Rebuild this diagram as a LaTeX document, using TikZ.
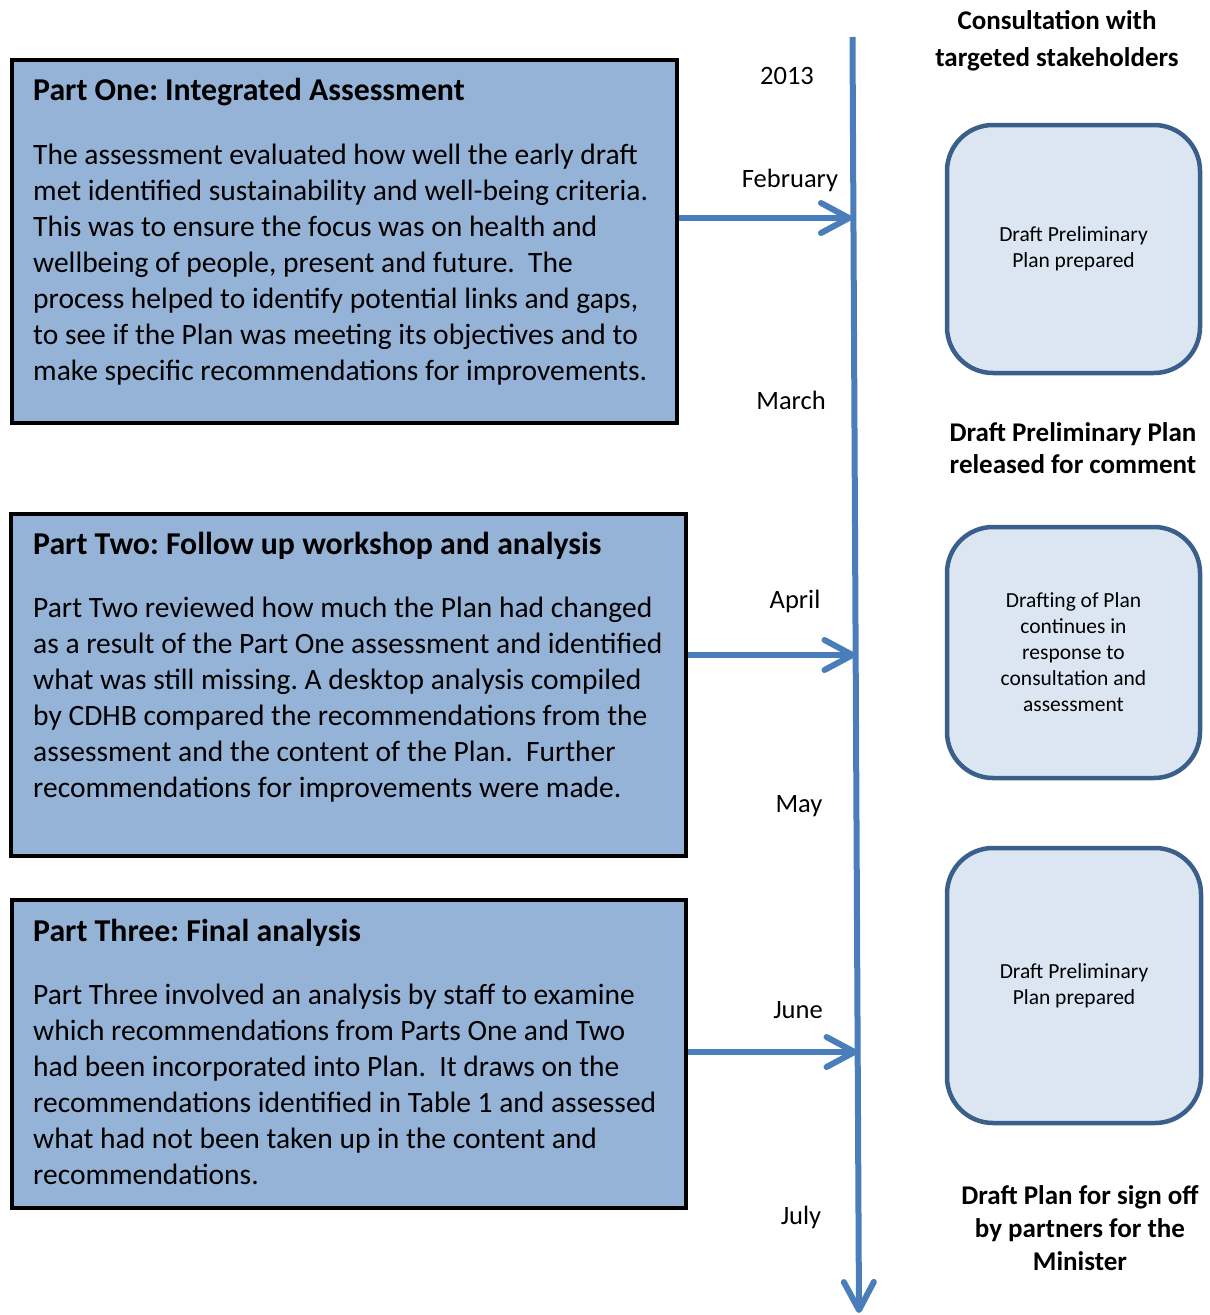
\documentclass[tikz,border=0pt]{standalone}
\usepackage{fontspec}
\setmainfont{Carlito}
\usetikzlibrary{arrows.meta}
\definecolor{partfill}{HTML}{95B3D7}
\definecolor{linecol}{HTML}{4A7EBB}
\definecolor{rbfill}{HTML}{DCE6F2}
\definecolor{rbdraw}{HTML}{3A5F8B}
\frenchspacing
\begin{document}
\begin{tikzpicture}[x=1pt,y=-1pt,
  partbox/.style={draw=black, line width=4pt, fill=partfill, inner sep=0pt},
  roundbox/.style={draw=rbdraw, line width=4.5pt, fill=rbfill, rounded corners=46pt, inner sep=0pt},
  boxtext/.style={font=\fontsize{21.5}{26}\selectfont, align=center, inner sep=0pt},
  heading/.style={font=\fontsize{31.8}{36}\selectfont\bfseries, anchor=base west, inner sep=0pt},
  body/.style={font=\fontsize{29.5}{36}\selectfont, anchor=base west, inner sep=0pt, align=left},
  month/.style={font=\fontsize{26.5}{30}\selectfont, inner sep=0pt},
  milestone/.style={font=\fontsize{27}{32}\selectfont\bfseries, align=center, inner sep=0pt},
  conn/.style={draw=linecol, line width=6pt, -{Straight Barb[length=28pt, width=30pt, round]}}
]
\useasboundingbox (0,0) rectangle (1210,1315);

% left boxes
\node[partbox, minimum width=665pt, minimum height=363pt] (p1) at (344.5,241.5) {};
\node[partbox, minimum width=675pt, minimum height=342pt] (p2) at (348.5,685) {};
\node[partbox, minimum width=674pt, minimum height=308pt] (p3) at (349,1054) {};

\node[heading] (h1) at (33,100) {Part One: Integrated Assessment};
\node[body] (b1) at (33,380) {The assessment evaluated how well the early draft\\
met identified sustainability and well-being criteria.\\
This was to ensure the focus was on health and\\
wellbeing of people, present and future.\ \ The\\
process helped to identify potential links and gaps,\\
to see if the Plan was meeting its objectives and to\\
make specific recommendations for improvements.};

\node[heading] (h2) at (33,554) {Part Two: Follow up workshop and analysis};
\node[body] (b2) at (33,797) {Part Two reviewed how much the Plan had changed\\
as a result of the Part One assessment and identified\\
what was still missing. A desktop analysis compiled\\
by CDHB compared the recommendations from the\\
assessment and the content of the Plan.\ \ Further\\
recommendations for improvements were made.};

\node[heading] (h3) at (33,941) {Part Three: Final analysis};
\node[body] (b3) at (33,1184) {Part Three involved an analysis by staff to examine\\
which recommendations from Parts One and Two\\
had been incorporated into Plan.\ \ It draws on the\\
recommendations identified in Table 1 and assessed\\
what had not been taken up in the content and\\
recommendations.};

% timeline
\coordinate (tltop) at (852.5,37);
\coordinate (tlbot) at (859,1313);
\draw[conn] (tltop) -- (tlbot);

\coordinate (t1) at (852,218);
\coordinate (t2) at (855.5,655);
\coordinate (t3) at (857.5,1052);
\draw[conn] (p1.east |- t1) -- (t1);
\draw[conn] (p2.east |- t2) -- (t2);
\draw[conn] (p3.east |- t3) -- (t3);

% months
\node[month] (m0) at (787,76) {2013};
\node[month] (m1) at (790,180) {February};
\node[month] (m2) at (791,400) {March};
\node[month] (m3) at (795,601) {April};
\node[month] (m4) at (799,806) {May};
\node[month] (m5) at (798,1010) {June};
\node[month] (m6) at (801,1217) {July};

% right column
\node[milestone, font=\fontsize{27}{37}\selectfont\bfseries] (c1) at (1057,41) {Consultation with\\targeted stakeholders};
\node[roundbox, minimum width=253pt, minimum height=248pt] (r1) at (1073.5,249) {};
\node[boxtext] (r1t) at (r1.center) {Draft Preliminary\\Plan prepared};

\node[milestone] (c2) at (1073,448) {Draft Preliminary Plan\\released for comment};
\node[roundbox, minimum width=253pt, minimum height=251pt] (r2) at (1073.5,652.5) {};
\node[boxtext] (r2t) at (r2.center) {Drafting of Plan\\continues in\\response to\\consultation and\\assessment};

\node[roundbox, minimum width=254pt, minimum height=275pt] (r3) at (1074,985.5) {};
\node[boxtext] (r3t) at (r3.center) {Draft Preliminary\\Plan prepared};

\node[milestone, font=\fontsize{27}{33}\selectfont\bfseries] (c3) at (1080,1228) {Draft Plan for sign off\\by partners for the\\Minister};
\end{tikzpicture}
\end{document}
